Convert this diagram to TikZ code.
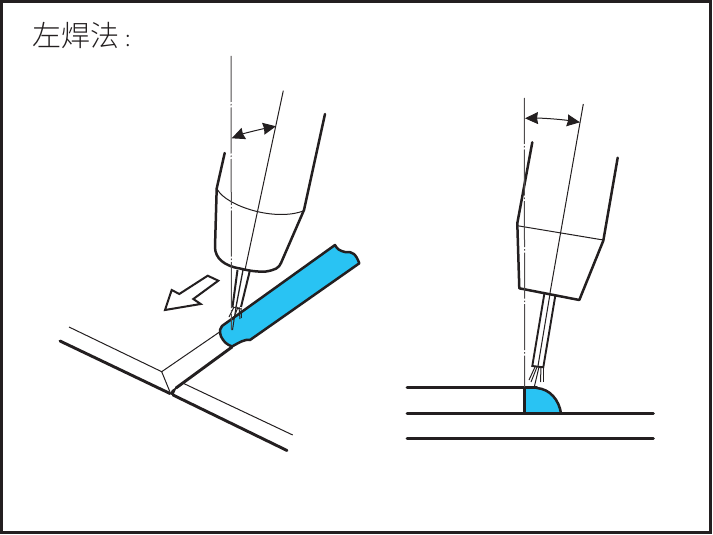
\documentclass[tikz,border=0pt]{standalone}
\usepackage{fontspec}
\newfontfamily\cjk{Noto Sans CJK SC Light}
\usetikzlibrary{arrows.meta}
\definecolor{ink}{HTML}{231F20}
\definecolor{weld}{HTML}{29C3F3}
\tikzset{
  heavy/.style={draw=ink,line width=3.2pt,line cap=round,line join=round},
  medium/.style={draw=ink,line width=2.5pt,line cap=round,line join=round},
  slab/.style={draw=ink,line width=2.9pt,line cap=round,line join=round},
  fine/.style={draw=ink,line width=1pt},
  hair/.style={draw=ink,line width=1pt},
  axisline/.style={draw=ink!80,line width=1pt,dash pattern=on 46pt off 2pt on 1.5pt off 2pt},
  angle/.style={draw=ink,line width=1pt,{Stealth[length=13pt,width=12pt,inset=1pt]}-{Stealth[length=13pt,width=12pt,inset=1pt]}},
}
\begin{document}
\begin{tikzpicture}[x=1pt,y=-1pt]
\useasboundingbox (0,0) rectangle (713,535);
\draw[ink,line width=3.2pt] (1.6,1.6) rectangle (710.4,532.4);
\node[anchor=west,inner sep=0pt,text=ink] (title) at (32.5,36) {\cjk\fontsize{29}{32}\selectfont 左焊法\hspace{6pt}{\fontsize{22}{24}\selectfont :}};

% --- left view ---
% plate
\draw[hair] (69,327) -- (161.7,371.7) -- (220,331.7);
\draw[hair] (161.7,371.7) -- (170,392);
\draw[hair] (183.3,383.3) -- (292.7,435);
\draw[slab] (60,341) -- (170,393.5);
\draw[slab] (173,395) -- (287,450.5);
\draw[slab] (176,388) -- (232,347);
\fill[ink] (170,393.5) -- (173,396) -- (176,389) -- (184,382) -- (172,390) -- cycle;
% filler rod
\draw[medium,fill=weld] (222,326)
  -- (335,245)
  .. controls (337,249) and (340,251) .. (345,252)
  .. controls (352,251) and (356,254) .. (359.3,263.3)
  -- (250,340)
  .. controls (245,339) and (240,342) .. (232,346.5)
  .. controls (226,344) and (224,342) .. (221,336.5)
  .. controls (219,331) and (220,328) .. (222,326) -- cycle;
% travel arrow
\draw[draw=ink,line width=2pt,line join=miter,fill=white]
  (207.7,275.7) -- (218.3,280.7) -- (193.3,299) -- (200.7,304) -- (165,310) -- (171.7,290) -- (179.3,294) -- cycle;
% torch
\draw[medium] (224.7,153) -- (216.7,188.5) -- (215,247)
  .. controls (215,258) and (224,266) .. (240,268.5)
  .. controls (250,271) and (258,272) .. (266,271.5)
  .. controls (275,270) and (279,268) .. (281,263)
  -- (304,210) -- (325,114);
\draw[fine] (217.7,190) .. controls (227,206) and (275,222) .. (304,210.7);
% wire and sparks
\draw[line width=2pt,draw=ink] (237.5,270) -- (232.5,307);
\draw[line width=2pt,draw=ink] (250,270) -- (241,307);
\draw[line width=1.3pt,draw=ink] (243,270) -- (236,307);
\draw[hair] (232.5,307) -- (241,309);
\draw[hair] (234,307) -- (229,317);
\draw[hair] (236,307) -- (232.5,330);
\draw[hair] (238,307) -- (233,320);
\draw[hair] (239,307) -- (240,319);
\draw[hair] (241,308) -- (241.5,318);
% axes
\draw[axisline] (231,56) -- (231.5,330);
\draw[fine] (283.3,90.7) -- (245,270);
\draw[angle] (231.7,138.3) .. controls (245,133) and (262,129) .. (276,126.3);

% --- right view ---
\fill[weld] (525,388) -- (536.7,388) .. controls (550,389) and (559,400) .. (561,413.3) -- (525,413.3) -- cycle;
\draw[medium] (536.7,388) .. controls (550,389) and (559,400) .. (561,413.3);
\draw[slab] (407,387.7) -- (537,387.7);
\draw[slab] (407,413.3) -- (653.5,413.3);
\draw[slab] (407,438.3) -- (653.5,438.3);
\draw[heavy,line cap=butt] (524.7,387.7) -- (524.7,413.3);
% torch
\draw[medium] (532.3,142.3) -- (517.3,223.3) -- (519.3,288.3) -- (579.3,300) -- (603.3,240.7) -- (617.7,157.7);
\draw[fine] (517.3,225.7) -- (603.3,240);
% wire and sparks
\draw[line width=1.9pt,draw=ink] (544.3,294) -- (532.3,366) -- (543.3,367.3) -- (555.3,295.7);
\draw[line width=1pt,draw=ink] (550,294) -- (538,366);
\draw[hair] (535,367) -- (529,380);
\draw[hair] (537,367) -- (531,382);
\draw[hair] (539,367) -- (534.5,386);
\draw[hair] (541,367) -- (540.5,382);
\draw[hair] (543,367.3) -- (543,382);
% axes
\draw[axisline] (524.3,98) -- (524.7,387);
\draw[fine] (583.3,104) -- (550,293);
\draw[angle] (525,118.3) .. controls (543,118) and (562,119.5) .. (580,122.3);
\end{tikzpicture}
\end{document}
